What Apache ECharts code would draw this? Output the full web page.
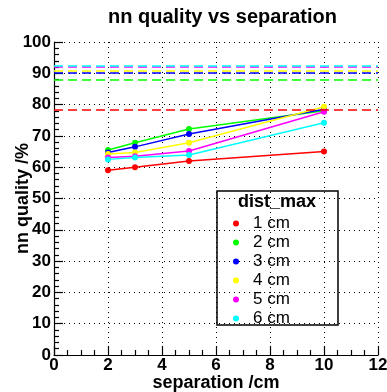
<!DOCTYPE html>
<html><head><meta charset="utf-8">
<script src="https://cdn.jsdelivr.net/npm/echarts@6/dist/echarts.min.js"></script>
<style>html,body{margin:0;padding:0;background:#fff}#c{width:387px;height:392px}</style>
</head><body><div id="c"></div>
<script>
var separation = [2, 3, 5, 10];
var names = ['1 cm', '2 cm', '3 cm', '4 cm', '5 cm', '6 cm'];
var colors = ['#ff0000', '#00ff00', '#0000ff', '#ffff00', '#ff00ff', '#00ffff'];
var q1 = [59, 60, 62, 65];
var q2 = [65.5, 67.8, 72.2, 78];
var q3 = [64.7, 66.5, 70.6, 78.5];
var q4 = [64.2, 64.7, 67.8, 79.3];
var q5 = [63.1, 63.5, 65.2, 77.7];
var q6 = [62.5, 63.1, 63.9, 74.2];
var levels = [78.2, 87.9, 90.2, 90.9, 92.0, 92.5];
var qualities = [q1, q2, q3, q4, q5, q6];

var F = 'Liberation Sans, Arial, Helvetica, sans-serif';
var series = names.map(function (n, i) {
  return {
    name: n, type: 'line', color: colors[i],
    data: separation.map(function (x, k) { return [x, qualities[i][k]]; }),
    symbol: 'circle', symbolSize: 6, showSymbol: true,
    lineStyle: { width: 1.5, color: colors[i] },
    itemStyle: { color: colors[i] },
    markLine: {
      silent: true, symbol: 'none', animation: false,
      label: { show: false },
      lineStyle: { color: colors[i], type: [9, 5], width: 1.5 },
      data: [{ yAxis: levels[i] }]
    }
  };
});

var chart = echarts.init(document.getElementById('c'), null, { renderer: 'canvas' });
chart.setOption({
  animation: false,
  backgroundColor: '#fff',
  title: {
    text: 'nn quality vs separation', left: 103, top: 2,
    textStyle: { fontFamily: F, fontWeight: 'bold', fontSize: 20, color: '#000' }
  },
  grid: { left: 54, right: 9, top: 42, bottom: 37, containLabel: false, outerBoundsMode: 'none' },
  xAxis: {
    type: 'value', min: 0, max: 12, interval: 2,
    name: 'separation /cm', nameLocation: 'middle', nameGap: 19, nameMoveOverlap: false,
    nameTextStyle: { fontFamily: F, fontWeight: 'bold', fontSize: 18, color: '#000' },
    axisLine: { show: true, onZero: false, lineStyle: { color: '#000', width: 1.2 } },
    axisTick: { show: true, inside: true, length: 9, lineStyle: { color: '#000', width: 1.2 } },
    minorTick: { show: true, splitNumber: 4, length: 5, lineStyle: { color: '#000', width: 1.2 } },
    axisLabel: { fontFamily: F, fontWeight: 'bold', fontSize: 17, color: '#000', margin: 2 },
    splitLine: { show: true, lineStyle: { color: '#000', type: [1, 4], width: 1 } }
  },
  yAxis: {
    type: 'value', min: 0, max: 100, interval: 10,
    name: 'nn quality /%', nameLocation: 'middle', nameGap: 22, nameMoveOverlap: false,
    nameTextStyle: { fontFamily: F, fontWeight: 'bold', fontSize: 18, color: '#000' },
    axisLine: { show: true, onZero: false, lineStyle: { color: '#000', width: 1.2 } },
    axisTick: { show: true, inside: true, length: 9, lineStyle: { color: '#000', width: 1.2 } },
    minorTick: { show: true, splitNumber: 5, length: 5, lineStyle: { color: '#000', width: 1.2 } },
    axisLabel: { fontFamily: F, fontWeight: 'bold', fontSize: 17, color: '#000', margin: 3 },
    splitLine: { show: true, lineStyle: { color: '#000', type: [1, 4], width: 1 } }
  },
  legend: {
    orient: 'vertical', left: 228, top: 210,
    icon: 'circle', itemWidth: 6, itemHeight: 6, itemGap: 2,
    data: names,
    textStyle: { fontFamily: F, fontSize: 17, color: '#000', lineHeight: 17, padding: [0, 0, 0, 9] }
  },
  graphic: [
    { type: 'rect', shape: { x: 217, y: 191, width: 121, height: 134 },
      style: { fill: 'none', stroke: '#000', lineWidth: 1.5 }, z: 100 },
    { type: 'text', x: 277, y: 202, style: { text: 'dist_max', fontFamily: F, fontWeight: 'bold', fontSize: 18,
      fill: '#000', align: 'center', verticalAlign: 'middle' }, z: 100 }
  ],
  series: series
});
</script></body></html>
